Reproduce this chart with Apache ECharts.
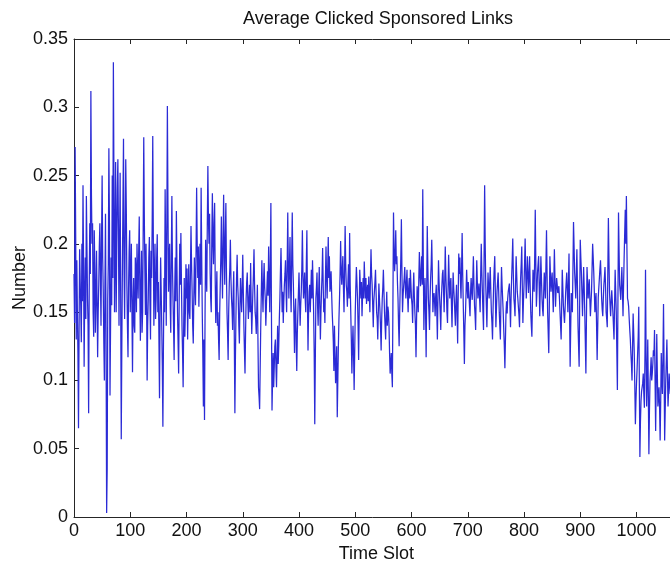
<!DOCTYPE html>
<html>
<head>
<meta charset="utf-8">
<script src="https://cdn.jsdelivr.net/npm/echarts@6/dist/echarts.min.js"></script>
<style>
  html, body { margin: 0; padding: 0; background: #ffffff; }
  #chart { width: 670px; height: 565px; }
</style>
</head>
<body>
<div id="chart"></div>
<script>
// Average clicked sponsored links per time slot (slot 0, 1, 2, ...)
const clicks = [
  0.178,0.142,0.271,0.205,0.130,0.188,0.150,0.120,0.065,0.135,0.196,0.172,0.155,0.128,0.200,0.158,0.243,0.185,0.110,0.160,
  0.190,0.145,0.235,0.198,0.160,0.140,0.076,0.165,0.215,0.178,0.312,0.236,0.200,0.215,0.150,0.132,0.210,0.182,0.135,0.158,
  0.195,0.160,0.117,0.150,0.170,0.198,0.215,0.176,0.140,0.205,0.250,0.190,0.165,0.128,0.100,0.170,0.222,0.130,0.003,0.035,
  0.160,0.185,0.270,0.215,0.089,0.140,0.190,0.155,0.250,0.175,0.333,0.245,0.150,0.195,0.260,0.150,0.200,0.240,0.262,0.210,
  0.140,0.198,0.252,0.160,0.057,0.125,0.180,0.230,0.277,0.180,0.145,0.205,0.262,0.225,0.170,0.140,0.117,0.168,0.195,0.210,
  0.150,0.172,0.200,0.150,0.106,0.158,0.175,0.140,0.135,0.190,0.180,0.150,0.200,0.178,0.160,0.195,0.220,0.168,0.129,0.170,
  0.195,0.135,0.150,0.210,0.278,0.220,0.180,0.148,0.200,0.165,0.100,0.140,0.160,0.190,0.205,0.158,0.130,0.195,0.175,0.215,
  0.279,0.205,0.140,0.178,0.200,0.145,0.160,0.190,0.207,0.150,0.172,0.130,0.087,0.150,0.190,0.165,0.140,0.110,0.066,0.125,
  0.175,0.150,0.240,0.195,0.140,0.210,0.301,0.230,0.165,0.185,0.200,0.155,0.135,0.190,0.235,0.185,0.160,0.138,0.115,0.165,
  0.190,0.158,0.224,0.185,0.150,0.128,0.105,0.160,0.200,0.170,0.208,0.172,0.140,0.120,0.095,0.140,0.175,0.132,0.150,0.185,
  0.160,0.182,0.130,0.160,0.185,0.150,0.145,0.180,0.213,0.185,0.165,0.140,0.127,0.160,0.190,0.170,0.155,0.195,0.241,0.200,
  0.175,0.198,0.154,0.178,0.200,0.170,0.241,0.192,0.150,0.120,0.081,0.130,0.071,0.150,0.203,0.180,0.165,0.215,0.257,0.218,
  0.200,0.222,0.179,0.160,0.150,0.205,0.237,0.200,0.185,0.215,0.230,0.175,0.142,0.160,0.180,0.140,0.150,0.130,0.115,0.150,
  0.170,0.190,0.220,0.185,0.160,0.200,0.236,0.195,0.170,0.205,0.230,0.180,0.150,0.135,0.115,0.150,0.170,0.182,0.203,0.175,
  0.160,0.152,0.137,0.165,0.180,0.130,0.076,0.118,0.150,0.175,0.192,0.170,0.160,0.140,0.127,0.155,0.175,0.162,0.150,0.168,
  0.192,0.165,0.140,0.122,0.105,0.135,0.160,0.172,0.179,0.158,0.145,0.160,0.170,0.150,0.186,0.155,0.134,0.150,0.165,0.178,
  0.196,0.170,0.150,0.145,0.134,0.152,0.170,0.130,0.095,0.088,0.079,0.110,0.140,0.165,0.188,0.165,0.150,0.172,0.186,0.168,
  0.160,0.140,0.154,0.168,0.180,0.162,0.198,0.172,0.150,0.185,0.230,0.150,0.078,0.100,0.120,0.095,0.110,0.125,0.130,0.110,
  0.095,0.118,0.140,0.112,0.125,0.145,0.160,0.180,0.197,0.172,0.150,0.165,0.142,0.158,0.170,0.178,0.188,0.165,0.150,0.185,
  0.223,0.182,0.160,0.185,0.205,0.168,0.150,0.190,0.223,0.185,0.170,0.145,0.120,0.150,0.160,0.128,0.107,0.135,0.150,0.165,
  0.179,0.158,0.140,0.155,0.165,0.182,0.210,0.178,0.160,0.168,0.179,0.160,0.150,0.185,0.210,0.160,0.122,0.150,0.165,0.170,
  0.150,0.165,0.181,0.160,0.188,0.170,0.150,0.120,0.068,0.115,0.160,0.168,0.179,0.155,0.140,0.165,0.183,0.155,0.130,0.150,
  0.165,0.178,0.197,0.170,0.150,0.160,0.142,0.175,0.198,0.175,0.160,0.182,0.205,0.175,0.191,0.165,0.170,0.180,0.164,0.150,
  0.140,0.128,0.107,0.140,0.120,0.098,0.109,0.125,0.073,0.100,0.125,0.145,0.160,0.178,0.202,0.180,0.170,0.182,0.191,0.168,
  0.150,0.180,0.213,0.185,0.170,0.165,0.154,0.172,0.185,0.160,0.208,0.170,0.150,0.130,0.105,0.125,0.140,0.118,0.093,0.120,
  0.150,0.168,0.183,0.172,0.160,0.140,0.115,0.150,0.181,0.170,0.160,0.172,0.147,0.162,0.175,0.160,0.187,0.172,0.160,0.175,
  0.156,0.165,0.170,0.158,0.176,0.162,0.150,0.175,0.196,0.178,0.170,0.155,0.139,0.158,0.165,0.172,0.181,0.165,0.150,0.145,
  0.130,0.150,0.171,0.160,0.150,0.138,0.122,0.145,0.160,0.168,0.181,0.165,0.150,0.140,0.130,0.150,0.165,0.140,0.154,0.150,
  0.140,0.120,0.105,0.112,0.120,0.105,0.095,0.160,0.223,0.195,0.180,0.192,0.210,0.185,0.191,0.172,0.160,0.140,0.125,0.150,
  0.170,0.190,0.218,0.180,0.150,0.162,0.169,0.175,0.183,0.168,0.160,0.172,0.181,0.162,0.150,0.168,0.175,0.160,0.181,0.170,
  0.160,0.155,0.142,0.165,0.179,0.162,0.150,0.140,0.117,0.145,0.169,0.160,0.150,0.175,0.194,0.178,0.169,0.180,0.191,0.170,
  0.240,0.185,0.137,0.160,0.175,0.150,0.117,0.165,0.213,0.185,0.160,0.150,0.137,0.160,0.175,0.185,0.203,0.178,0.150,0.160,
  0.164,0.158,0.147,0.162,0.170,0.150,0.130,0.160,0.188,0.172,0.160,0.150,0.137,0.158,0.169,0.178,0.181,0.165,0.150,0.170,
  0.198,0.178,0.165,0.150,0.142,0.168,0.192,0.175,0.160,0.170,0.175,0.155,0.139,0.160,0.179,0.168,0.160,0.150,0.140,0.158,
  0.170,0.150,0.127,0.162,0.193,0.178,0.190,0.172,0.160,0.182,0.208,0.178,0.156,0.135,0.112,0.140,0.150,0.165,0.181,0.168,
  0.160,0.172,0.164,0.155,0.147,0.165,0.175,0.165,0.159,0.175,0.191,0.170,0.155,0.148,0.137,0.165,0.188,0.172,0.160,0.165,
  0.171,0.160,0.150,0.178,0.200,0.180,0.165,0.150,0.137,0.190,0.243,0.200,0.170,0.155,0.139,0.162,0.179,0.168,0.160,0.172,
  0.183,0.165,0.150,0.142,0.130,0.152,0.170,0.182,0.191,0.165,0.139,0.152,0.165,0.172,0.179,0.165,0.150,0.140,0.130,0.160,
  0.183,0.170,0.160,0.150,0.137,0.125,0.109,0.130,0.150,0.158,0.149,0.160,0.165,0.168,0.171,0.155,0.139,0.160,0.175,0.188,
  0.204,0.178,0.160,0.155,0.147,0.170,0.191,0.178,0.165,0.160,0.154,0.148,0.139,0.160,0.175,0.185,0.198,0.168,0.142,0.158,
  0.170,0.185,0.204,0.180,0.160,0.175,0.191,0.178,0.164,0.178,0.191,0.168,0.150,0.140,0.132,0.158,0.181,0.172,0.165,0.190,
  0.225,0.185,0.154,0.165,0.179,0.185,0.191,0.168,0.147,0.170,0.191,0.175,0.160,0.152,0.147,0.165,0.179,0.170,0.160,0.185,
  0.210,0.178,0.150,0.135,0.120,0.155,0.191,0.178,0.165,0.172,0.179,0.165,0.150,0.172,0.196,0.175,0.154,0.165,0.175,0.170,
  0.164,0.166,0.169,0.160,0.150,0.140,0.130,0.155,0.181,0.168,0.155,0.148,0.142,0.152,0.164,0.172,0.179,0.165,0.150,0.172,
  0.193,0.150,0.110,0.138,0.164,0.158,0.150,0.182,0.216,0.198,0.179,0.170,0.160,0.178,0.196,0.168,0.140,0.125,0.110,0.158,
  0.203,0.190,0.179,0.163,0.147,0.165,0.183,0.168,0.150,0.128,0.105,0.145,0.183,0.172,0.160,0.168,0.174,0.160,0.147,0.156,
  0.165,0.182,0.200,0.190,0.179,0.165,0.150,0.158,0.164,0.140,0.115,0.138,0.161,0.168,0.175,0.182,0.188,0.175,0.160,0.152,
  0.147,0.160,0.170,0.176,0.183,0.168,0.150,0.145,0.139,0.180,0.219,0.190,0.165,0.155,0.147,0.158,0.166,0.158,0.150,0.140,
  0.130,0.155,0.181,0.165,0.150,0.122,0.093,0.160,0.223,0.195,0.170,0.165,0.159,0.172,0.183,0.165,0.147,0.170,0.190,0.208,
  0.225,0.200,0.235,0.195,0.160,0.158,0.154,0.145,0.137,0.130,0.120,0.112,0.100,0.125,0.149,0.135,0.120,0.095,0.068,0.085,
  0.098,0.108,0.120,0.132,0.154,0.100,0.044,0.070,0.085,0.092,0.095,0.098,0.105,0.090,0.080,0.118,0.181,0.120,0.081,0.100,
  0.130,0.090,0.046,0.078,0.100,0.108,0.117,0.100,0.105,0.112,0.122,0.118,0.137,0.100,0.063,0.098,0.134,0.105,0.081,0.088,
  0.095,0.080,0.056,0.085,0.120,0.102,0.090,0.118,0.156,0.110,0.056,0.078,0.100,0.115,0.130,0.105,0.081,0.092,0.105,0.098,
  0.090,0.105,0.120,0.098,0.075,0.092,0.110,0.100
];

const chartTitle = 'Average Clicked Sponsored Links';
const xName = 'Time Slot';
const yName = 'Number';

const points = clicks.map((v, slot) => [slot, v]);

const font = "'Liberation Sans', Arial, Helvetica, sans-serif";
const axisColor = '#262626';
const textColor = '#111111';

const chart = echarts.init(document.getElementById('chart'), null, { renderer: 'canvas' });

const tickStyle = { show: true, inside: true, length: 5, lineStyle: { color: axisColor, width: 1 } };

chart.setOption({
  animation: false,
  backgroundColor: '#ffffff',
  title: {
    text: chartTitle,
    left: 373,
    top: 5,
    textAlign: 'center',
    textStyle: { fontFamily: font, fontSize: 18, fontWeight: 'normal', color: textColor }
  },
  // the axes box runs a little past the right edge of the page
  grid: { left: 74, top: 39, width: 604.7, height: 478, containLabel: false, outerBoundsMode: 'none' },
  xAxis: [
    {
      type: 'value',
      min: 0,
      max: 1075,
      interval: 100,
      position: 'bottom',
      name: xName,
      nameLocation: 'middle',
      nameGap: 28,
      nameMoveOverlap: false,
      nameTextStyle: { fontFamily: font, fontSize: 18, color: textColor },
      axisLine: { show: true, onZero: false, lineStyle: { color: axisColor, width: 1 } },
      axisTick: tickStyle,
      axisLabel: {
        show: true, margin: 5, showMaxLabel: false,
        fontFamily: font, fontSize: 18, color: textColor,
        formatter: v => String(v)
      },
      splitLine: { show: false }
    },
    {
      type: 'value',
      min: 0,
      max: 1075,
      interval: 100,
      position: 'top',
      axisLine: { show: true, onZero: false, lineStyle: { color: axisColor, width: 1 } },
      axisTick: tickStyle,
      axisLabel: { show: false },
      splitLine: { show: false }
    }
  ],
  yAxis: {
    type: 'value',
    min: 0,
    max: 0.35,
    interval: 0.05,
    name: yName,
    nameLocation: 'middle',
    nameRotate: 90,
    nameGap: 45,
    nameMoveOverlap: false,
    nameTextStyle: { fontFamily: font, fontSize: 18, color: textColor },
    axisLine: { show: true, onZero: false, lineStyle: { color: axisColor, width: 1 } },
    axisTick: tickStyle,
    axisLabel: { show: true, margin: 6, fontFamily: font, fontSize: 18, color: textColor },
    splitLine: { show: false }
  },
  series: [
    {
      type: 'line',
      xAxisIndex: 0,
      data: points,
      showSymbol: false,
      symbol: 'none',
      clip: true,
      sampling: false,
      lineStyle: { color: '#2b2bd6', width: 1.25 },
      emphasis: { disabled: true }
    }
  ]
});
</script>
</body>
</html>
